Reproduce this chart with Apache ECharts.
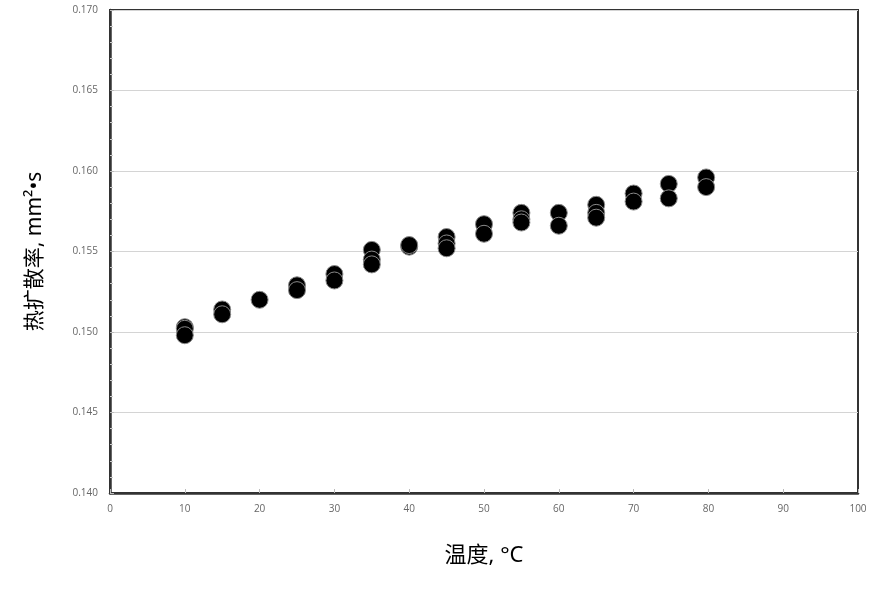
<!DOCTYPE html>
<html>
<head>
<meta charset="utf-8">
<title>热扩散率 vs 温度</title>
<script src="https://cdn.jsdelivr.net/npm/echarts@6/dist/echarts.min.js"></script>
<style>
  html, body { margin: 0; padding: 0; background: #fff; }
  #chart { width: 877px; height: 594px; }
</style>
</head>
<body>
<div id="chart"></div>
<script>
  // temperatures (°C) and the repeated readings at each one (mm²/s)
  const temps = [10, 15, 20, 25, 30, 35, 40, 45, 50, 55, 60, 65, 70, 74.7, 79.7];
  const readings = [
    [0.1503, 0.1502, 0.1498],
    [0.1514, 0.1511],
    [0.1520],
    [0.1529, 0.1526],
    [0.1536, 0.1532],
    [0.1551, 0.1545, 0.1542],
    [0.1553, 0.1554],
    [0.1559, 0.1555, 0.1552],
    [0.1567, 0.1561],
    [0.1574, 0.1570, 0.1568],
    [0.1574, 0.1566],
    [0.1579, 0.1574, 0.1571],
    [0.1586, 0.1581],
    [0.1592, 0.1583],
    [0.1596, 0.1590]
  ];
  const xTicks = { min: 0, max: 100, interval: 10 };
  const yTicks = { min: 0.140, max: 0.170, interval: 0.005 };

  const points = [];
  temps.forEach((t, i) => readings[i].forEach((v) => points.push([t, v])));

  const chart = echarts.init(document.getElementById("chart"), null, { renderer: "canvas" });
  const labelFont = "Open Sans, Liberation Sans, sans-serif";
  const titleFont = "Noto Sans, Noto Sans CJK SC, sans-serif";

  chart.setOption({
    animation: false,
    grid: { left: 110, right: 19, top: 10, bottom: 101, show: true, borderColor: "#333", borderWidth: 2 },
    xAxis: {
      type: "value", min: xTicks.min, max: xTicks.max, interval: xTicks.interval,
      name: "温度, °C", nameLocation: "middle", nameGap: 52,
      nameTextStyle: { color: "#000", fontSize: 22, fontFamily: titleFont },
      axisLine: { lineStyle: { color: "#333", width: 2.5 } },
      axisTick: { show: true, inside: true, length: 4, lineStyle: { color: "#bbb" } },
      axisLabel: { color: "#666", fontSize: 10, fontFamily: labelFont, margin: 11 },
      splitLine: { show: false }
    },
    yAxis: {
      type: "value", min: yTicks.min, max: yTicks.max, interval: yTicks.interval,
      name: "热扩散率, mm²•s", nameLocation: "middle", nameGap: 64,
      nameTextStyle: { color: "#000", fontSize: 21, fontFamily: titleFont },
      axisLine: { show: true, lineStyle: { color: "#333", width: 2.5 } },
      axisTick: { show: true, inside: true, length: 4, lineStyle: { color: "#bbb" } },
      minorTick: { show: true, splitNumber: 5, length: 3, lineStyle: { color: "#ccc" } },
      axisLabel: { color: "#666", fontSize: 10, fontFamily: labelFont, margin: 12,
        formatter: (v) => v.toFixed(3) },
      splitLine: { show: true, lineStyle: { color: "#d4d4d4", width: 1.2 } }
    },
    series: [{
      type: "scatter",
      data: points,
      symbol: "circle",
      symbolSize: 17,
      itemStyle: { color: "#000", opacity: 1, borderColor: "#8a8a8a", borderWidth: 1 }
    }]
  });
</script>
</body>
</html>
